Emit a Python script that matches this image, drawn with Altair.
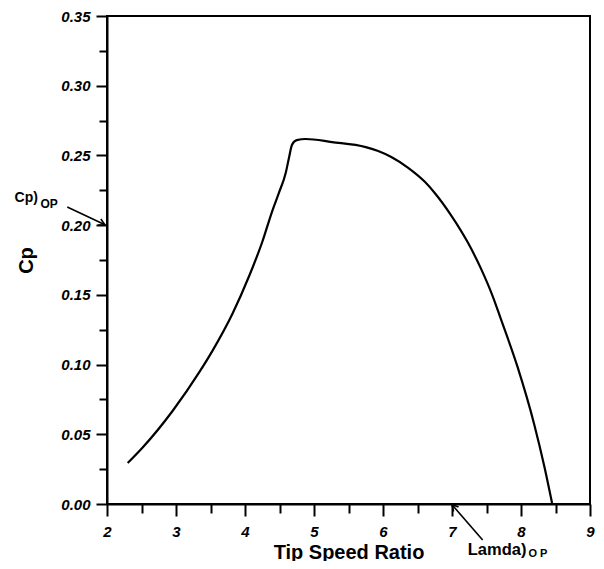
import altair as alt
import pandas as pd

# Curve
tsr = [2.30, 2.52, 2.95, 3.34, 3.53, 3.82, 4.06, 4.25, 4.39, 4.49, 4.59,
       4.64, 4.68, 4.75, 4.88, 5.26, 5.75, 5.93, 6.12, 6.36, 6.61, 6.75, 6.98,
       7.23, 7.42, 7.60, 7.70, 7.95, 8.19, 8.34, 8.45]
cp = [0.0294, 0.0407, 0.0667, 0.0947, 0.110, 0.1366, 0.1635, 0.1879, 0.2094,
      0.223, 0.2374, 0.2489, 0.2575, 0.261, 0.2618, 0.2596, 0.256, 0.2532,
      0.2489, 0.2413, 0.2309, 0.2231, 0.2076, 0.1875, 0.1688, 0.1477, 0.1338,
      0.0983, 0.0574, 0.0265, 0.0007]

x_ticks = [2, 2.5, 3, 3.5, 4, 4.5, 5, 5.5, 6, 6.5, 7, 7.5, 8, 8.5, 9]
y_ticks = [0.0, 0.025, 0.05, 0.075, 0.10, 0.125, 0.15, 0.175, 0.20, 0.225,
           0.25, 0.275, 0.30, 0.325, 0.35]

# Annotations (data coordinates)
arrow_x = [1.424, 7.444]
arrow_y = [0.213, -0.0258]
arrow_x2 = [1.97, 7.0]
arrow_y2 = [0.2003, -0.0005]
arrow_angle = [25.3, 228.5]

label_text = ["Cp)", "Lamda)"]
label_x = [0.66, 7.228]
label_y = [0.2166, -0.0366]
label_size = [14, 16.5]
sub_text = ["OP", "O P"]
sub_x = [1.035, 8.107]
sub_y = [0.2123, -0.038]
sub_size = [12, 11]

FONT = "Liberation Sans"

df = pd.DataFrame({"tsr": tsr, "cp": cp})
arrows = pd.DataFrame({"x": arrow_x, "y": arrow_y, "x2": arrow_x2, "y2": arrow_y2,
                       "angle": arrow_angle})
labels = pd.DataFrame({"t": label_text, "x": label_x, "y": label_y, "s": label_size})
subs = pd.DataFrame({"t": sub_text, "x": sub_x, "y": sub_y, "s": sub_size})

xscale = alt.Scale(domain=[2, 9], nice=False, zero=False)
yscale = alt.Scale(domain=[0, 0.35], nice=False, zero=False)

common_axis = dict(
    labelFont=FONT, labelFontSize=15, labelFontWeight="bold", labelFontStyle="italic",
    labelColor="black", domainColor="black", domainWidth=2, tickColor="black",
    tickWidth=2, grid=False, labelOverlap=False, labelFlush=False,
    titleFont=FONT, titleFontWeight="bold", titleColor="black",
)

x_axis = alt.Axis(
    values=x_ticks, title="Tip Speed Ratio", titleFontSize=20, titlePadding=3,
    labelExpr="datum.value % 1 != 0 ? '' : format(datum.value, 'd')", labelPadding=8,
    tickSize={"condition": {"test": "datum.value % 1 != 0", "value": 9}, "value": 12},
    **common_axis,
)
y_axis = alt.Axis(
    values=y_ticks, title="Cp", titleFontSize=20, titlePadding=24, format=".2f",
    labelExpr="round(datum.value * 1000) % 50 != 0 ? '' : datum.label", labelPadding=6,
    tickSize={"condition": {"test": "round(datum.value * 1000) % 50 != 0", "value": 8},
              "value": 11},
    **common_axis,
)


def X(field):
    return alt.X(field, scale=xscale, axis=x_axis, title="Tip Speed Ratio")


def Y(field):
    return alt.Y(field, scale=yscale, axis=y_axis, title="Cp")


line = alt.Chart(df).mark_line(color="black", strokeWidth=2.2, interpolate="monotone").encode(
    x=X("tsr:Q"), y=Y("cp:Q"),
)

shafts = alt.Chart(arrows).mark_rule(color="black", strokeWidth=1.6).encode(
    x=X("x:Q"), y=Y("y:Q"), x2="x2:Q", y2="y2:Q",
)

heads = alt.Chart(arrows).mark_point(
    shape="M -1 -0.55 L 0 0 L -1 0.55", filled=False, color="black",
    strokeWidth=1.6, size=150, opacity=1,
).encode(
    x=X("x2:Q"), y=Y("y2:Q"),
    angle=alt.Angle("angle:Q", scale=None),
)

texts = alt.Chart(labels).mark_text(
    align="left", baseline="alphabetic", font=FONT, fontWeight="bold", color="black",
).encode(
    x=X("x:Q"), y=Y("y:Q"),
    text="t:N",
    size=alt.Size("s:Q", scale=None, legend=None),
)

subtexts = alt.Chart(subs).mark_text(
    align="left", baseline="alphabetic", font=FONT, fontWeight="bold", color="black",
).encode(
    x=X("x:Q"), y=Y("y:Q"),
    text="t:N",
    size=alt.Size("s:Q", scale=None, legend=None),
)

chart = alt.layer(line, shafts, heads, texts, subtexts).properties(
    width=483, height=488,
    autosize=alt.AutoSizeParams(type="none"),
    padding={"left": 99, "top": 8, "right": 6, "bottom": 57},
    background="white",
).configure_view(stroke="black", strokeWidth=2)

chart.save("out.html", embed_options={"renderer": "svg", "actions": False})
